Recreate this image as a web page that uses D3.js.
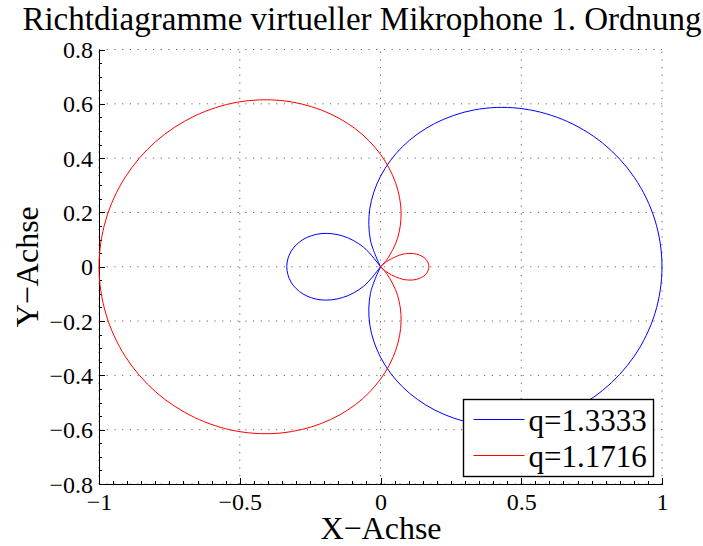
<!DOCTYPE html>
<html>
<head>
<meta charset="utf-8">
<style>
body { margin: 0; background: #fff; }
text { font-family: "Liberation Serif", "Times New Roman", serif; fill: #000; }
.grid line { stroke: #555; stroke-width: 0.9px; stroke-dasharray: 1.2,6.5; }
.axis path, .axis line { stroke: #000; stroke-width: 1px; shape-rendering: crispEdges; }
</style>
<script src="https://cdn.jsdelivr.net/npm/d3@7"></script>
</head>
<body>
<script>

// polar patterns (signed gain per angle in degrees), plotted as |r|
var blueAngles = [-120,-110,-100,-90,-80,-70,-60,-50,-40,-30,-20,-10,0,10,20,30,40,50,60,70,80,90,100,110,120,
                  130,140,150,160,170,180,190,200,210,220,230,240];
var blueR = [0.000,0.105,0.218,0.333,0.449,0.561,0.667,0.762,0.844,0.911,0.960,0.990,1.000,0.990,0.960,0.911,0.844,0.762,0.667,0.561,0.449,0.333,0.218,0.105,0.000,
             -0.095,-0.177,-0.244,-0.293,-0.323,-0.333,-0.323,-0.293,-0.244,-0.177,-0.095,0.000];

var redAngles = [45,50,60,70,80,90,100,110,120,130,140,150,160,170,180,190,200,210,220,230,240,250,260,270,280,290,300,310,315,
                 320,330,340,350,360,370,380,390,400,405];
var redR = [0.000,0.038,0.121,0.214,0.312,0.414,0.516,0.614,0.707,0.791,0.863,0.922,0.965,0.991,1.000,0.991,0.965,0.922,0.863,0.791,0.707,0.614,0.516,0.414,0.312,0.214,0.121,0.038,0.000,
            -0.035,-0.093,-0.136,-0.163,-0.172,-0.163,-0.136,-0.093,-0.035,0.000];

var seriesNames = ["q=1.3333", "q=1.1716"];
var seriesColors = ["#0000ff", "#ff0000"];

var xTicks = [-1, -0.5, 0, 0.5, 1];
var yTicks = [-0.8, -0.6, -0.4, -0.2, 0, 0.2, 0.4, 0.6, 0.8];

var width = 703, height = 546;
var pLeft = 99, pRight = 662, pTop = 49.5, pBottom = 484;

var svg = d3.select("body").append("svg")
    .attr("width", width)
    .attr("height", height);

var x = d3.scaleLinear().domain([-1, 1]).range([pLeft, pRight]);
var y = d3.scaleLinear().domain([-0.8, 0.8]).range([pBottom, pTop]);

var fmt = function(d) { return d3.format("")(d).replace("-", "\u2212"); };

// dotted grid
var grid = svg.append("g").attr("class", "grid");
grid.selectAll(".gx").data(xTicks).enter().append("line")
    .attr("x1", function(d) { return x(d); }).attr("x2", function(d) { return x(d); })
    .attr("y1", pBottom).attr("y2", pTop);
grid.selectAll(".gy").data(yTicks).enter().append("line")
    .attr("y1", function(d) { return y(d); }).attr("y2", function(d) { return y(d); })
    .attr("x1", pLeft).attr("x2", pRight);

// minor ticks pointing inside
var minorX = d3.range(-1, 1.0001, 0.05);
var minorY = d3.range(-0.8, 0.8001, 0.05);

var xAxis = svg.append("g").attr("class", "axis")
    .attr("transform", "translate(0," + pBottom + ")")
    .call(d3.axisBottom(x).tickValues(minorX).tickSize(-3).tickFormat(""));
xAxis.select(".domain").remove();
var yAxis = svg.append("g").attr("class", "axis")
    .attr("transform", "translate(" + pLeft + ",0)")
    .call(d3.axisLeft(y).tickValues(minorY).tickSize(-3).tickFormat(""));
yAxis.select(".domain").remove();

var xMajor = svg.append("g").attr("class", "axis")
    .attr("transform", "translate(0," + pBottom + ")")
    .call(d3.axisBottom(x).tickValues(xTicks).tickSize(-6).tickFormat(fmt).tickSizeOuter(0));
xMajor.selectAll("text")
    .style("font-size", "24px").attr("dy", "0.71em").attr("y", 9);
var yMajor = svg.append("g").attr("class", "axis")
    .attr("transform", "translate(" + pLeft + ",0)")
    .call(d3.axisLeft(y).tickValues(yTicks).tickSize(-6).tickFormat(fmt).tickSizeOuter(0));
yMajor.selectAll("text")
    .style("font-size", "24px").attr("x", -6).attr("dy", "0.34em");

// curves, split at the nulls
var line = d3.line()
    .x(function(d) { return x(Math.abs(d.r) * Math.cos(d.a * Math.PI / 180)); })
    .y(function(d) { return y(Math.abs(d.r) * Math.sin(d.a * Math.PI / 180)); })
    .curve(d3.curveCatmullRom);

function segments(angles, radii) {
  var segs = [], cur = [];
  angles.forEach(function(a, i) {
    cur.push({a: a, r: radii[i]});
    if (radii[i] === 0 && cur.length > 1) { segs.push(cur); cur = [{a: a, r: 0}]; }
  });
  if (cur.length > 1) segs.push(cur);
  return segs;
}

[[blueAngles, blueR], [redAngles, redR]].forEach(function(s, i) {
  svg.append("g").selectAll("path")
      .data(segments(s[0], s[1]))
      .enter().append("path")
      .attr("d", line)
      .attr("fill", "none")
      .attr("stroke", seriesColors[i])
      .attr("stroke-width", 1);
});

// title and labels
svg.append("text")
    .attr("x", 362).attr("y", 30)
    .attr("text-anchor", "middle")
    .style("font-size", "33px")
    .text("Richtdiagramme virtueller Mikrophone 1. Ordnung");

svg.append("text")
    .attr("x", 381).attr("y", 539)
    .attr("text-anchor", "middle")
    .style("font-size", "32px")
    .text("X\u2212Achse");

svg.append("text")
    .attr("transform", "translate(38," + y(0) + ") rotate(-90)")
    .attr("text-anchor", "middle")
    .style("font-size", "32px")
    .text("Y\u2212Achse");

// legend
var legend = svg.append("g").attr("transform", "translate(463.5,399.5)");
legend.append("rect")
    .attr("width", 190).attr("height", 77)
    .attr("fill", "#fff").attr("stroke", "#000").attr("stroke-width", 1.4);
var items = legend.selectAll(".item").data(seriesNames).enter().append("g")
    .attr("transform", function(d, i) { return "translate(0," + (20 + i * 36) + ")"; });
items.append("line")
    .attr("x1", 10).attr("x2", 61)
    .attr("stroke", function(d, i) { return seriesColors[i]; })
    .attr("stroke-width", 1);
items.append("text")
    .attr("x", 65).attr("dy", "0.36em")
    .style("font-size", "31px")
    .text(function(d) { return d; });

</script>
</body>
</html>
